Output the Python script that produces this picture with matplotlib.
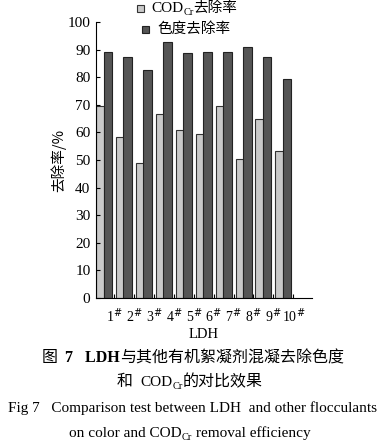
import matplotlib.pyplot as plt
from matplotlib.patches import Rectangle
import numpy as np

# 数据
labels = ['1', '2', '3', '4', '5', '6', '7', '8', '9', '10']
cod = [69.7, 58.3, 48.8, 66.8, 61.0, 59.5, 69.5, 50.2, 65.0, 53.1]
color = [89.0, 87.4, 82.5, 92.8, 88.7, 89.2, 89.0, 91.0, 87.3, 79.2]

plt.rcParams['font.family'] = ['Liberation Serif', 'Noto Sans CJK SC']
cjk = ['Noto Sans CJK SC']
W, H = 386, 447

fig = plt.figure(figsize=(3.86, 4.47), dpi=100)
ax = fig.add_axes([0.2487, 0.3333, 0.560, 0.6175])
renderer = fig.canvas.get_renderer()


def parts_text(x, y, parts, ha='left'):
    # 依次排列几段文字 (x, y 为像素, 自上而下计y); 每段: (文字, 下移像素, 字体参数)
    ts = []
    cx = 0
    for s, dy, kw in parts:
        t = fig.text(0, 0, s, va='baseline', ha='left', transform=None, **kw)
        w = t.get_window_extent(renderer).width
        ts.append((t, cx, dy))
        cx += w
    x0 = x - cx / 2 if ha == 'center' else x
    for t, off, dy in ts:
        t.set_position((x0 + off, H - y - dy))


x = np.arange(len(labels))
b1 = ax.bar(x, cod, width=0.38, align='edge', color='#c9c9c9',
            edgecolor='#333333', linewidth=0.8)
b2 = ax.bar(x + 0.36, color, width=0.44, align='edge', color='#555555',
            edgecolor='#222222', linewidth=0.8)

ax.set_xlim(-0.02, 10.85)
ax.set_ylim(0, 100)
ax.set_yticks(range(0, 101, 10))
ax.tick_params(axis='y', direction='in', length=3, labelsize=11, pad=4)
ax.set_xticks(x + 0.9)
ax.set_xticklabels([l + r'$^{\#}$' for l in labels], fontsize=10)
ax.tick_params(axis='x', direction='in', length=3, pad=6)
for s in ['top', 'right']:
    ax.spines[s].set_visible(False)
ax.spines['left'].set_linewidth(0.8)
ax.spines['bottom'].set_linewidth(0.8)

ax.set_ylabel('去除率/%', family=cjk, fontsize=10.5, labelpad=1)
ax.set_xlabel('LDH', fontsize=10.5, labelpad=2)

# 图例
fig.patches.append(Rectangle((137, H - 12), 7, 7, transform=None, figure=fig,
                             facecolor='#c9c9c9', edgecolor='#333333', lw=0.8))
fig.patches.append(Rectangle((142, H - 33), 7, 7, transform=None, figure=fig,
                             facecolor='#555555', edgecolor='#222222', lw=0.8))
parts_text(151, 12, [('COD', 0, dict(fontsize=11)),
                     ('Cr', 3, dict(fontsize=7.5)),
                     ('去除率', 0, dict(fontsize=10.5, family=cjk))])
parts_text(157, 33, [('色度去除率', 0, dict(fontsize=10.5, family=cjk))])

# 图题
parts_text(193, 362, [('图  ', 0, dict(fontsize=11.5, family=cjk)),
                      ('7   LDH', 0, dict(fontsize=11.5, weight='bold')),
                      ('与其他有机絮凝剂混凝去除色度', 0, dict(fontsize=11.5, family=cjk))],
           ha='center')
parts_text(190, 386, [('和  ', 0, dict(fontsize=11.5, family=cjk)),
                      ('COD', 0, dict(fontsize=11)),
                      ('Cr', 3, dict(fontsize=7.5)),
                      ('的对比效果', 0, dict(fontsize=11.5, family=cjk))],
           ha='center')
parts_text(192, 412, [('Fig 7   Comparison test between LDH  and other flocculants',
                       0, dict(fontsize=11))], ha='center')
parts_text(190, 437, [('on color and COD', 0, dict(fontsize=11)),
                      ('Cr', 3, dict(fontsize=7.5)),
                      (' removal efficiency', 0, dict(fontsize=11))], ha='center')

fig.savefig('out.png', dpi=100)
